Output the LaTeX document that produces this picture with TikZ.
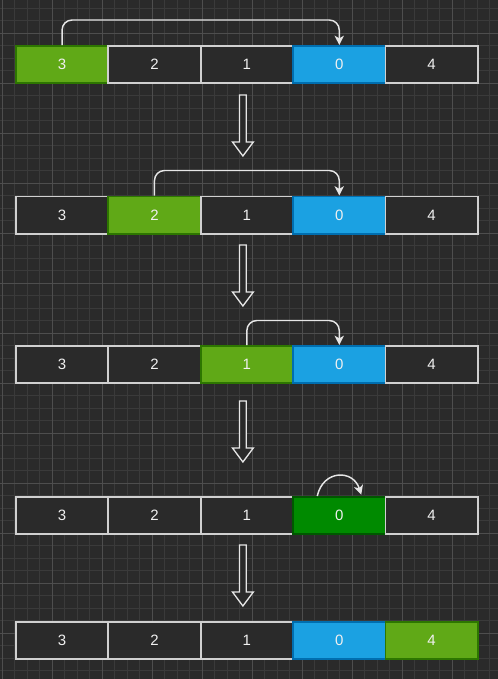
\documentclass[tikz,border=0pt]{standalone}
\usepackage{fontspec}
\setmainfont{Liberation Sans}
\usetikzlibrary{arrows.meta}
\definecolor{bg}{HTML}{2A2A2A}
\definecolor{gridminor}{HTML}{3A3A3A}
\definecolor{gridmajor}{HTML}{4E4E4E}
\definecolor{cellline}{HTML}{D0D0D0}
\definecolor{greenfill}{HTML}{60A917}
\definecolor{greenline}{HTML}{2D7600}
\definecolor{bluefill}{HTML}{1BA1E2}
\definecolor{blueline}{HTML}{006EAF}
\definecolor{dgreenfill}{HTML}{008A00}
\definecolor{dgreenline}{HTML}{005700}
\definecolor{txt}{HTML}{F0F0F0}
\definecolor{linkc}{HTML}{E6E6E6}
\tikzset{
  cellbase/.style={rectangle, anchor=north west, inner sep=0pt,
    minimum width=69.3pt, minimum height=28.1pt, line width=1.3pt,
    text=txt, font=\fontsize{11.25pt}{13pt}\selectfont},
  dcell/.style={cellbase, draw=cellline, fill=bg},
  gcell/.style={cellbase, draw=greenline, fill=greenfill},
  bcell/.style={cellbase, draw=blueline, fill=bluefill},
  kcell/.style={cellbase, draw=dgreenline, fill=dgreenfill},
  link/.style={draw=linkc, line width=1.1pt, rounded corners=7.5pt,
    -{Stealth[length=7pt,width=7pt,inset=2pt]}},
  bigarrow/.style={draw=linkc, line width=1pt, fill=bg, line join=miter}
}
\begin{document}
\begin{tikzpicture}[x=0.75pt,y=-0.75pt]
\useasboundingbox (0,0) rectangle (498,679);
\fill[bg] (0,0) rectangle (498,679);
% grid
\foreach \k in {0,...,39} {
  \draw[gridminor, line width=0.6pt] ({2+12.5*\k},0) -- ({2+12.5*\k},679);
}
\foreach \k in {0,...,54} {
  \draw[gridminor, line width=0.6pt] (0,{8.3+12.5*\k}) -- (498,{8.3+12.5*\k});
}
\foreach \k in {0,...,9} {
  \draw[gridmajor, line width=0.7pt] ({2+50*\k},0) -- ({2+50*\k},679);
}
\foreach \k in {0,...,13} {
  \draw[gridmajor, line width=0.7pt] (0,{33.3+50*\k}) -- (498,{33.3+50*\k});
}
% cells
\foreach \r/\y/\sa/\sb/\sc/\sd/\se in {
  1/45/gcell/dcell/dcell/bcell/dcell,
  2/195.5/dcell/gcell/dcell/bcell/dcell,
  3/345/dcell/dcell/gcell/bcell/dcell,
  4/496/dcell/dcell/dcell/kcell/dcell,
  5/621/dcell/dcell/dcell/bcell/gcell} {
  \node[\sa] (r\r c1) at (15,\y) {3};
  \node[\sb] (r\r c2) at (107.4,\y) {2};
  \node[\sc] (r\r c3) at (199.8,\y) {1};
  \node[\sd] (r\r c4) at (292.2,\y) {0};
  \node[\se] (r\r c5) at (384.6,\y) {4};
}
% swap connectors
\draw[link] (r1c1.north) -- ++(0,-25) -| (r1c4.north);
\draw[link] (r2c2.north) -- ++(0,-25) -| (r2c4.north);
\draw[link] (r3c3.north) -- ++(0,-24.5) -| (r3c4.north);
\draw[draw=linkc, line width=1.1pt, -{Stealth[length=7pt,width=7pt,inset=2pt]}]
  ([xshift=-16.5pt]r4c4.north) .. controls ([xshift=-12pt,yshift=20pt]r4c4.north) and ([xshift=10.5pt,yshift=20pt]r4c4.north) .. ([xshift=16.5pt,yshift=1pt]r4c4.north);
% hollow down arrows
\foreach \t in {95,245,401,545} {
  \draw[bigarrow] (239.5,\t) -- (246.3,\t) -- (246.3,{\t+47}) -- (253.3,{\t+47})
    -- (242.9,{\t+61}) -- (232.5,{\t+47}) -- (239.5,{\t+47}) -- cycle;
}
\end{tikzpicture}
\end{document}
